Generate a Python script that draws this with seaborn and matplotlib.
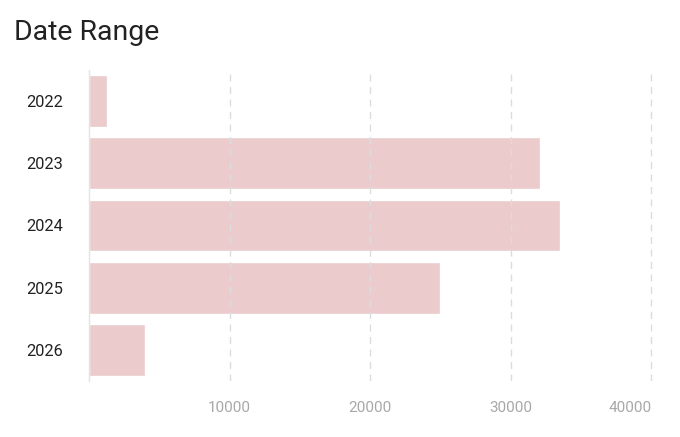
import matplotlib
matplotlib.use("Agg")
import matplotlib.pyplot as plt
import seaborn as sns
import pandas as pd

# Valores
anos = ["2022", "2023", "2024", "2025", "2026"]
contagens = [1300, 32100, 33500, 25000, 4000]
ticks_x = [10000, 20000, 30000, 40000]

df = pd.DataFrame({"ano": anos, "contagem": contagens})

sns.set_theme(style="white")
plt.rcParams["font.family"] = ["Roboto", "DejaVu Sans"]

fig = plt.figure(figsize=(6.8, 4.37), dpi=100)
ax = fig.add_axes([0.131, 0.128, 0.832, 0.712])

sns.barplot(data=df, x="contagem", y="ano", orient="h", color="#ebcbcb",
            saturation=1, width=0.83, ax=ax, zorder=1)

ax.set_xlim(0, 40250)
ax.set_ylim(4.5, -0.5)
ax.set_xticks(ticks_x)
ax.set_xticklabels([str(t) for t in ticks_x], color="#a8a8a8", fontsize=11)
ax.get_xticklabels()[-1].set_horizontalalignment("right")
ax.tick_params(axis="x", length=0, pad=14)
ax.tick_params(axis="y", length=0, pad=19, labelsize=11.8, labelcolor="#222222")
for t in ticks_x:
    ax.axvline(t, color="#dcdcdc", linestyle=(0, (5, 4)), linewidth=1, zorder=2)
ax.set_xlabel("")
ax.set_ylabel("")
for side in ["top", "right", "bottom"]:
    ax.spines[side].set_visible(False)
ax.spines["left"].set_color("#e4e4e4")
ax.spines["left"].set_linewidth(1)

fig.text(0.02, 0.925, "Date Range", fontsize=20.5, color="#222222",
         va="center")

fig.savefig("out.png", dpi=100)
plt.close(fig)
